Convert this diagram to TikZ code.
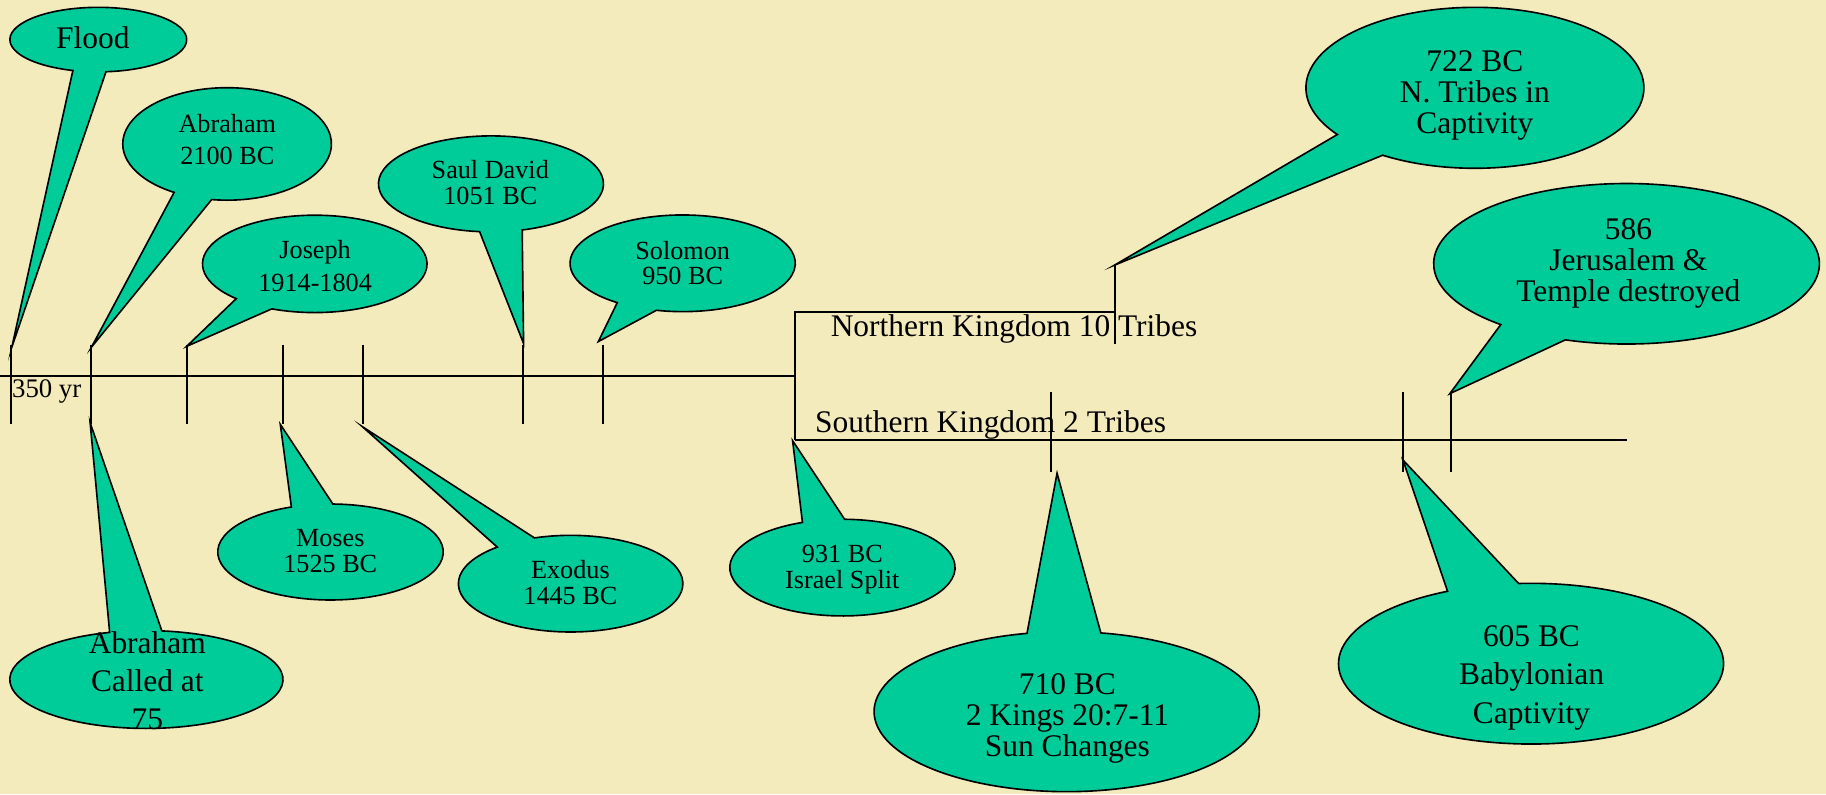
\documentclass[tikz,border=0pt]{standalone}
\usepackage{fontspec}
\setmainfont{Liberation Serif}
\usetikzlibrary{calc}
\definecolor{bg}{HTML}{F3EBBB}
\definecolor{bub}{HTML}{00CC99}
\newcommand\bubble[6]{% #1 centre, #2 a, #3 b, #4 gap start, #5 gap end, #6 tip
  \filldraw[bubble] (#6) -- ($(#1)+(#5:#2 and #3)$) arc[start angle=#5, end angle={#4+360}, x radius=#2, y radius=#3] -- cycle;}
\begin{document}
\begin{tikzpicture}[x=1pt,y=1pt,
  tl/.style={draw=black,line width=1.6pt},
  bubble/.style={fill=bub,draw=black,line width=1.4pt,line join=miter,miter limit=20},
  txt/.style={align=center,inner sep=0pt,anchor=base},
  lbl/.style={inner sep=0pt,anchor=base west},
  sA/.style={font=\fontsize{22.5}{22}\selectfont},
  sB/.style={font=\fontsize{22.5}{27.5}\selectfont},
  bA/.style={font=\fontsize{27}{26.5}\selectfont},
  bB/.style={font=\fontsize{27}{33}\selectfont}]
\fill[bg] (0,0) rectangle (1568,-682);
\useasboundingbox (0,0) rectangle (1568,-682);
% main line and ticks
\coordinate (L0) at (0,-323);
\coordinate (Lsplit) at (682.5,-323);
\draw[tl] (L0) -- (Lsplit);
\foreach \x/\n in {9.5/a,78/b,160.5/c,243/d,312/e,449/f,517.5/g}{
  \coordinate (t\n top) at (\x,-296);
  \coordinate (t\n bot) at (\x,-364);
  \draw[tl] (t\n top) -- (t\n bot);}
% kingdoms
\coordinate (ntop) at (682.5,-267.7);
\coordinate (sbot) at (682.5,-378);
\coordinate (nend) at (957.5,-267.7);
\coordinate (send) at (1397,-378);
\draw[tl] (sbot) -- (ntop) -- (nend);
\draw[tl] (sbot) -- (send);
\coordinate (nktop) at (957.5,-227.6);
\coordinate (nkbot) at (957.5,-295);
\draw[tl] (nktop) -- (nkbot);
\foreach \x/\n/\y in {902.5/h/337,1204.7/i/337,1245.7/j/338}{
  \coordinate (t\n top) at (\x,-\y);
  \coordinate (t\n bot) at (\x,-405);
  \draw[tl] (t\n top) -- (t\n bot);}
% bubble centres and tips
\coordinate (cFlood) at (84.4,-34);      \coordinate (pFlood) at (10.2,-298);
\coordinate (cAbr) at (195,-123.6);      \coordinate (pAbr) at (78.6,-298);
\coordinate (cJos) at (270.3,-226.6);    \coordinate (pJos) at (160.3,-297.4);
\coordinate (cSaul) at (421.6,-157.9);   \coordinate (pSaul) at (449.6,-295);
\coordinate (cSol) at (586.2,-226.1);    \coordinate (pSol) at (513.8,-293.3);
\coordinate (cCall) at (125.7,-583.5);   \coordinate (pCall) at (77.4,-363);
\coordinate (cMos) at (283.8,-474);      \coordinate (pMos) at (240.7,-364.4);
\coordinate (cExo) at (490,-501.2);      \coordinate (pExo) at (311.2,-366.4);
\coordinate (cIsr) at (723.4,-487.4);    \coordinate (pIsr) at (680.6,-378.4);
\coordinate (cSun) at (916,-611.1);      \coordinate (pSun) at (907.7,-406.4);
\coordinate (cNT) at (1266.5,-75.4);     \coordinate (pNT) at (957.2,-227.6);
\coordinate (cJer) at (1396.7,-226.5);   \coordinate (pJer) at (1245,-338);
\coordinate (cBab) at (1314.7,-569.9);   \coordinate (pBab) at (1204.7,-395);
\bubble{cFlood}{75.9}{27.7}{-106.7}{-85}{pFlood}
\bubble{cAbr}{89.6}{48.3}{-120.5}{-98.5}{pAbr}
\bubble{cJos}{96.4}{41.8}{-134.4}{-112.5}{pJos}
\bubble{cSaul}{96.6}{41.2}{-95.8}{-73.9}{pSaul}
\bubble{cSol}{96.7}{41.5}{-125.5}{-103.5}{pSol}
\bubble{cCall}{117.3}{42}{83.5}{105.6}{pCall}
\bubble{cMos}{96.8}{41.2}{88.8}{110.3}{pMos}
\bubble{cExo}{96.4}{41.5}{108.8}{130.8}{pExo}
\bubble{cIsr}{96.7}{41.5}{88.9}{110.8}{pIsr}
\bubble{cSun}{165.4}{68.7}{79.8}{101.9}{pSun}
\bubble{cNT}{145.1}{69.1}{-144.5}{-123.1}{pNT}
\bubble{cJer}{165.6}{68.9}{-130.7}{-108.5}{pJer}
\bubble{cBab}{165.3}{69}{93.7}{115.7}{pBab}
% texts (base anchor = baseline of the last line)
\node[txt,bA] (flood) at (79.8,-41.5) {Flood};
\node[txt,sB] (abraham) at (195.2,-141) {Abraham\\2100 BC};
\node[txt,sB] (joseph) at (270.6,-249.9) {Joseph\\1914-1804};
\node[txt,sA] (saul) at (421,-175.4) {Saul David\\1051 BC};
\node[txt,sA] (solomon) at (586.2,-244.7) {Solomon\\950 BC};
\node[txt,sA] (moses) at (283.6,-491.7) {Moses\\1525 BC};
\node[txt,sA] (exodus) at (489.8,-518.9) {Exodus\\1445 BC};
\node[txt,sA] (israel) at (723.3,-505.2) {931 BC\\Israel Split};
\node[txt,bB] (called) at (126.5,-626.8) {Abraham\\Called at\\75};
\node[txt,bA] (sun) at (916.6,-649.7) {710 BC\\2 Kings 20:7-11\\Sun Changes};
\node[txt,bA] (ntribes) at (1266.5,-114.5) {722 BC\\N. Tribes in\\Captivity};
\node[txt,bA] (jeru) at (1398.3,-258.5) {586\\Jerusalem \&\\Temple destroyed};
\node[txt,bB] (baby) at (1315.1,-621) {605 BC\\Babylonian\\Captivity};
\node[lbl,font=\fontsize{23}{23}\selectfont] (yr) at (10.2,-341) {350 yr};
\node[lbl,font=\fontsize{27}{27}\selectfont] (north) at (713.2,-289.2) {Northern Kingdom 10 Tribes};
\node[lbl,font=\fontsize{27}{27}\selectfont] (south) at (699.8,-371.3) {Southern Kingdom 2 Tribes};
\end{tikzpicture}
\end{document}
